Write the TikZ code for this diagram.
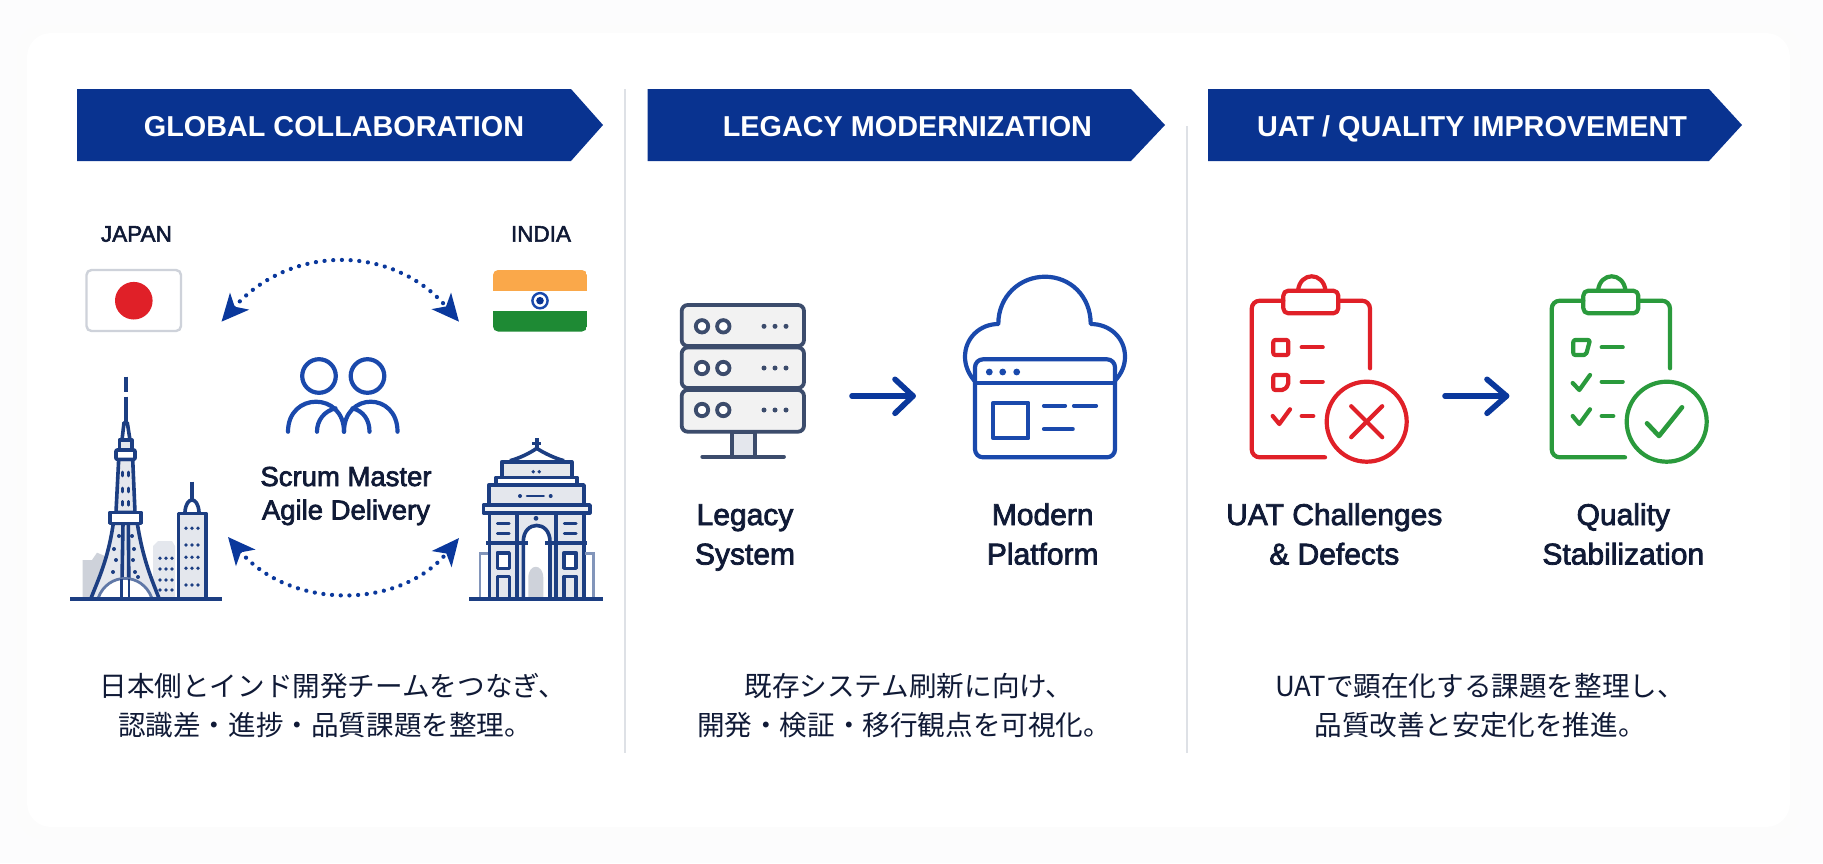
\documentclass[tikz,border=0pt]{standalone}
\usepackage{fontspec}
\usepackage{xcolor}
\setmainfont{Liberation Sans}
\newfontfamily\medfont[FakeBold=2.5]{Liberation Sans}
\newfontfamily\jpfont{Noto Sans CJK JP}
\usepackage{tikz}
\usetikzlibrary{arrows.meta, positioning}
\definecolor{pagebg}{RGB}{252, 252, 253}
\definecolor{hdrblue}{RGB}{9, 51, 144}
\definecolor{sepgray}{RGB}{222, 225, 230}
\definecolor{inkdark}{RGB}{16, 26, 54}
\definecolor{navyline}{RGB}{28, 62, 130}
\definecolor{iconblue}{RGB}{26, 73, 172}
\definecolor{arrowblue}{RGB}{10, 56, 156}
\definecolor{slateline}{RGB}{60, 76, 108}
\definecolor{palefill}{RGB}{228, 231, 237}
\definecolor{shadedark}{RGB}{206, 210, 218}
\definecolor{iconred}{RGB}{224, 32, 40}
\definecolor{icongreen}{RGB}{42, 154, 60}
\definecolor{flagorange}{RGB}{250, 168, 74}
\definecolor{flaggreen}{RGB}{30, 138, 52}
\tikzset{
  hdrbar/.style={fill=hdrblue, draw=none},
  hdrtext/.style={anchor=base, text=white, font=\fontsize{28.8}{32}\selectfont\bfseries},
  flagtext/.style={anchor=base, text=inkdark, font=\fontsize{22.5}{26}\selectfont\medfont},
  itemtext/.style={anchor=base, text=inkdark, font=\fontsize{30}{34}\selectfont\medfont},
  sumtext/.style={anchor=base, text=inkdark, font=\fontsize{27.5}{32}\selectfont\medfont},
  desctext/.style={anchor=base, text=inkdark, font=\fontsize{27.6}{30}\selectfont\jpfont},
  sepline/.style={draw=sepgray, line width=1.6},
  dotarrow/.style={draw=arrowblue, line width=4.2, line cap=round, dash pattern=on 0.1pt off 8.6pt,
    {Stealth[length=27pt,width=25pt,inset=7pt]}-{Stealth[length=27pt,width=25pt,inset=7pt]}},
  flowarrow/.style={draw=arrowblue, line width=5.6, line cap=round, line join=round},
  navy/.style={draw=navyline, line width=3.6, line join=round},
  navythin/.style={draw=navyline, line width=2.6, line cap=round},
  icon/.style={draw=#1, line width=4.2, line cap=round, line join=round},
}
% clipboard outline, #1 colour
\newcommand{\clipboard}[1]{
  \draw[icon=#1, rounded corners=8] (1370,368.3) -- (1370,300.7) -- (1338.3,300.7);
  \draw[icon=#1, rounded corners=8] (1283.3,300.7) -- (1251.7,300.7) -- (1251.7,457.3) -- (1325,457.3);
  \draw[icon=#1, rounded corners=5] (1283.3,290.7) rectangle (1338.3,313.3);
  \draw[icon=#1] (1298,290.7) .. controls (1300,271.5) and (1323.5,271.5) .. (1325.5,290.7);
  \draw[icon=#1] (1301.7,347.3) -- (1322.7,347.3);
  \draw[icon=#1] (1301.7,381.7) -- (1322.7,381.7);
  \draw[icon=#1] (1301.7,416) -- (1313.3,416);
  \draw[icon=#1] (1366.7,421.7) circle[radius=40];
}
\begin{document}
\begin{tikzpicture}[x=1pt, y=-1pt]
% Page and card
\fill[pagebg] (0,0) rectangle (1823,863);
\foreach \g in {10,7,4,2}
  \fill[black!1.2, rounded corners=26] (27-\g,33-\g+2) rectangle (1790+\g,827+\g+2);
\fill[white, rounded corners=24] (27,33) rectangle (1790,827);

% Separators
\draw[sepline] (625,89) -- (625,753);
\draw[sepline] (1187,126) -- (1187,753);

% Header bars
\fill[hdrbar] (77,89) -- (571,89) -- (603,125) -- (571,161) -- (77,161) -- cycle;
\node[hdrtext] (hdrglobal) at (334,136.5) {GLOBAL COLLABORATION};
\fill[hdrbar] (647.5,89) -- (1131,89) -- (1165,125) -- (1131,161) -- (647.5,161) -- cycle;
\node[hdrtext] (hdrlegacy) at (907.4,136.5) {LEGACY MODERNIZATION};
\fill[hdrbar] (1208,89) -- (1709,89) -- (1742,125) -- (1709,161) -- (1208,161) -- cycle;
\node[hdrtext] (hdruat) at (1472,136.5) {UAT / QUALITY IMPROVEMENT};

% Japan flag
\node[flagtext] (japan) at (136.4,241.7) {JAPAN};
\draw[draw=shadedark, fill=white, line width=2.4, rounded corners=5] (86.5,270) rectangle (181,331);
\fill[iconred] (133.8,300.7) circle[radius=18.8];

% India flag
\node[flagtext] (india) at (541,241.7) {INDIA};
\begin{scope}
  \clip[rounded corners=5] (493,270) rectangle (587,331.5);
  \fill[flagorange] (493,270) rectangle (587,290.5);
  \fill[white] (493,290.5) rectangle (587,311);
  \fill[flaggreen] (493,311) rectangle (587,331.5);
\end{scope}
\draw[draw=iconblue, line width=2.4] (540,300.7) circle[radius=7.6];
\fill[hdrblue] (540,300.7) circle[radius=3.8];

% Dotted links
\coordinate (linkjp) at (221.5,321.7);
\coordinate (linkin) at (459,321.7);
\coordinate (linkgt) at (459,538);
\coordinate (linktk) at (228,537);
\draw[dotarrow] (linkjp) .. controls (290,244) and (393,244) .. (linkin);
\draw[dotarrow] (linktk) .. controls (290,610) and (400,610) .. (linkgt);

% Two people
\draw[icon=iconblue] (319,376) circle[radius=16.8];
\draw[icon=iconblue] (367.5,376) circle[radius=16.8];
\draw[icon=iconblue] (288,431.7) .. controls (288,391.7) and (344,391.7) .. (344,431.7);
\draw[icon=iconblue] (344,431.7) .. controls (344,391.7) and (397.5,391.7) .. (397.5,431.7);
\draw[icon=iconblue] (317,431.7) .. controls (317,420) and (324.5,411) .. (335.5,408.3);
\draw[icon=iconblue] (369.5,431.7) .. controls (369.5,420) and (363.5,411) .. (352.5,408.3);
\node[sumtext] (scrum) at (346,486) {Scrum Master};
\node[sumtext] (agile) at (346,519.5) {Agile Delivery};

% Tokyo skyline
\fill[shadedark] (82.7,597) -- (82.7,560) -- (92,560) -- (97,552.7) -- (105,556) -- (105,597) -- cycle;
\fill[palefill] (153,597) -- (153,546) -- (158,541) -- (172,541) -- (175,546) -- (175,597) -- cycle;
\foreach \yy in {558.3,569,580,590}
  \foreach \xx in {160,166,172}
    \fill[navyline] (\xx,\yy) circle[radius=1.9];
\draw[navy, fill=palefill] (178.3,598) -- (178.3,513.3) -- (205.7,513.3) -- (205.7,598);
\draw[navy] (185,512) .. controls (186,496) and (198,496) .. (199,512);
\draw[navy] (192,481.7) -- (192,501);
\foreach \yy in {528.3,545,557.3,568.3,585}
  \foreach \xx in {186,192,198}
    \fill[navyline] (\xx,\yy) circle[radius=1.9];

% Tokyo tower
\draw[navy, line cap=butt] (125.7,376.7) -- (125.7,391.7);
\draw[navy, line cap=butt] (125.7,396.7) -- (125.7,422);
\draw[navy, fill=white] (122,440) -- (124,422.7) -- (127.3,422.7) -- (130,440) -- cycle;
\draw[navy, fill=palefill] (119.3,440) rectangle (131.7,450);
\draw[navy, fill=palefill] (118.7,459.3) -- (116,512.3) -- (135,512.3) -- (132.7,459.3) -- cycle;
\draw[navy, fill=white, rounded corners=1] (116,450) rectangle (135,459.3);
\foreach \yy in {474,490,503.3}
  \foreach \xx in {122.7,128.5}
    \draw[navythin] (\xx,\yy-2) -- (\xx,\yy+2);
\draw[navy, fill=palefill] (113.3,523.3) .. controls (108,560) and (98,580) .. (90.7,599) -- (159.3,599) .. controls (152,580) and (143,560) .. (137.3,523.3) -- cycle;
\draw[navy] (123,523.3) -- (121.7,599);
\draw[navy] (128.3,523.3) -- (129,599);
\draw[draw=navyline!70, line width=2.8, fill=white] (98.3,597.7) .. controls (108,572) and (142,572) .. (151.7,597.7);
\draw[navy, line width=2.8] (121.7,579) -- (121.7,598);
\draw[navy, line width=2.8] (129,579) -- (129,598);
\foreach \xx/\yy in {119/536, 114/549, 116/560, 113/572, 132/536, 134/549, 133/560, 135/572, 138/577}
  \fill[navyline] (\xx,\yy) circle[radius=2];
\draw[navy, fill=white] (110,512.3) rectangle (140.7,523.3);
\draw[navy, line width=4] (70,599) -- (222,599);

% India gate
\fill[palefill] (489.3,505) rectangle (584,599);
\fill[white] (523.3,599) -- (523.3,541.7) .. controls (523.3,520) and (550,520) .. (550,541.7) -- (550,599) -- cycle;
\fill[shadedark] (528.3,599) -- (528.3,578) .. controls (528.3,563) and (543.3,563) .. (543.3,578) -- (543.3,599) -- cycle;
\draw[navy] (536.7,438) -- (536.7,448);
\draw[navy] (532,443.3) -- (541,443.3);
\draw[navy] (510,460.7) .. controls (520,458) and (530,453) .. (536.7,448.3) .. controls (544,453) and (554,458) .. (564,460.7);
\draw[navy, fill=palefill] (501.7,477.3) -- (501.7,461.7) -- (571.7,461.7) -- (571.7,477.3);
\draw[navy] (507,477.3) -- (566,477.3);
\foreach \xx in {533.3,539.3}
  \fill[navyline] (\xx,471.7) circle[radius=1.9];
\draw[navy, fill=white] (496,477.3) rectangle (576.7,485);
\draw[navy, fill=palefill] (488.7,485) rectangle (584,505);
\fill[navyline] (520,496) circle[radius=2];
\fill[navyline] (550.7,496) circle[radius=2];
\draw[navythin] (527,496) -- (543.7,496);
\draw[navy, fill=palefill!60] (483.3,505) rectangle (590,512.7);
\draw[navy] (489.3,512.7) -- (489.3,599);
\draw[navy] (516.7,512.7) -- (516.7,599);
\draw[navy] (556,512.7) -- (556,599);
\draw[navy] (584,512.7) -- (584,599);
\draw[navy] (523.3,599) -- (523.3,541.7) .. controls (523.3,520) and (550,520) .. (550,541.7) -- (550,599);
\draw[navy] (486,542.7) -- (528.3,542.7);
\draw[navy] (545,542.7) -- (587.3,542.7);
\fill[navyline] (536,518.3) circle[radius=2.4];
\foreach \xx in {497.3,564.2} {
  \draw[navythin] (\xx,523.3) -- (\xx+12,523.3);
  \draw[navythin] (\xx,533.3) -- (\xx+12,533.3);
  \draw[navy, fill=white] (\xx,552.7) rectangle (\xx+12,568.3);
  \draw[navy] (\xx,599) -- (\xx,576.5) -- (\xx+12,576.5) -- (\xx+12,599);
}
\draw[draw=navyline!55, line width=2.4] (488.3,553.3) -- (480,553.3) -- (480,599);
\draw[draw=navyline!55, line width=2.4] (585,553.3) -- (593.3,553.3) -- (593.3,599);
\draw[navy, line width=4] (469.3,599) -- (603.3,599);

% Server
\foreach \ya/\yb in {305/346, 347.5/388, 390/431.7}
  \draw[draw=slateline, fill=black!5, line width=3.8, rounded corners=6] (681.7,\ya) rectangle (804,\yb);
\foreach \yy in {326.3,368,410} {
  \draw[draw=slateline, fill=white, line width=3.8] (702,\yy) circle[radius=6.2];
  \draw[draw=slateline, fill=white, line width=3.8] (723.3,\yy) circle[radius=6.2];
  \foreach \xx in {764,775,786}
    \fill[slateline] (\xx,\yy) circle[radius=2.5];
}
\draw[draw=slateline, fill=palefill, line width=3.8] (731.7,431.7) rectangle (755,456.7);
\draw[draw=slateline, line width=3.8, line cap=round] (702.3,456.7) -- (784,456.7);
\node[itemtext] (legacy) at (745,525) {Legacy};
\node[itemtext] (system) at (745,564.5) {System};

% Legacy to modern
\coordinate (migfrom) at (852,396);
\coordinate (migto) at (913,396);
\draw[flowarrow] (migfrom) -- (migto);
\draw[flowarrow] (895,379.3) -- (migto) -- (895,413.3);

% Cloud and browser
\draw[icon=iconblue] (974.3,380.7) .. controls (968,373) and (965,365) .. (965,356.7)
  .. controls (965,338) and (980,324) .. (998.3,324)
  .. controls (998.3,296) and (1020,276.7) .. (1045,276.7)
  .. controls (1070,276.7) and (1090.7,296) .. (1090.7,324)
  .. controls (1110,324) and (1125,338) .. (1125,356.7)
  .. controls (1125,365) and (1122,373) .. (1115,380.7);
\draw[icon=iconblue, fill=white, rounded corners=8] (975,359.3) rectangle (1115,457.3);
\draw[icon=iconblue] (975,383.3) -- (1115,383.3);
\foreach \xx in {989.3,1002.7,1016.7}
  \fill[iconblue] (\xx,372) circle[radius=3.4];
\draw[icon=iconblue] (993.3,402.7) rectangle (1028.3,438.3);
\draw[icon=iconblue] (1044,405.7) -- (1065,405.7);
\draw[icon=iconblue] (1074,405.7) -- (1096,405.7);
\draw[icon=iconblue] (1044,429) -- (1072.7,429);
\node[itemtext] (modern) at (1042.7,525) {Modern};
\node[itemtext] (platform) at (1042.7,564.5) {Platform};

% Red clipboard
\clipboard{iconred}
\draw[icon=iconred, rounded corners=2] (1273.3,340) rectangle (1288.3,355);
\draw[icon=iconred, rounded corners=2] (1273.3,375) -- (1288.3,375) -- (1288.3,385) -- (1284,390) -- (1273.3,390) -- cycle;
\draw[icon=iconred] (1272.7,416) -- (1279.3,424) -- (1290,409.3);
\draw[icon=iconred] (1351.2,406.2) -- (1382.2,437.2);
\draw[icon=iconred] (1382.2,406.2) -- (1351.2,437.2);
\node[itemtext] (uatdef) at (1334.3,525) {UAT Challenges};
\node[itemtext] (defects) at (1334.3,564.5) {\& Defects};

% Defects to quality
\coordinate (fixfrom) at (1445,396);
\coordinate (fixto) at (1506.5,396);
\draw[flowarrow] (fixfrom) -- (fixto);
\draw[flowarrow] (1487,379.3) -- (fixto) -- (1487,413.3);

% Green clipboard
\begin{scope}[shift={(300,0)}]
\clipboard{icongreen}
\draw[icon=icongreen, rounded corners=2] (1273.3,340) -- (1290,340) -- (1286,355) -- (1273.3,355) -- cycle;
\draw[icon=icongreen] (1272.7,383) -- (1279.3,390) -- (1290,375);
\draw[icon=icongreen] (1272.7,416) -- (1279.3,424) -- (1290,409.3);
\draw[icon=icongreen, line width=4.6] (1347,423.3) -- (1359,436) -- (1382,407.3);
\end{scope}
\node[itemtext] (quality) at (1623.3,525) {Quality};
\node[itemtext] (stable) at (1623.3,564.5) {Stabilization};

% Descriptions
\node[desctext] (desca) at (333,696) {日本側とインド開発チームをつなぎ、};
\node[desctext] (descb) at (325,735) {認識差・進捗・品質課題を整理。};
\node[desctext] (descc) at (909,696) {既存システム刷新に向け、};
\node[desctext] (descd) at (904,735) {開発・検証・移行観点を可視化。};
\node[desctext] (desce) at (1480,696) {UATで顕在化する課題を整理し、};
\node[desctext] (descf) at (1480,735) {品質改善と安定化を推進。};
\end{tikzpicture}
\end{document}
